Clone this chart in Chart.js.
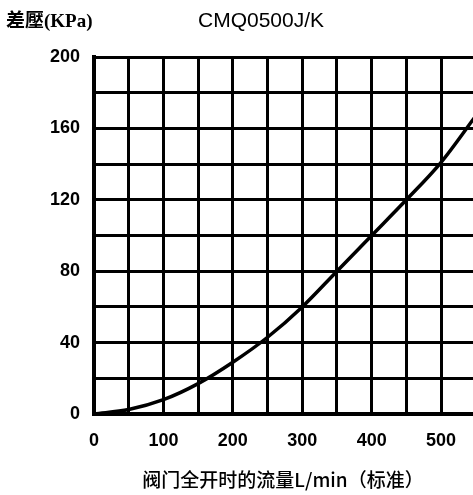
<!DOCTYPE html>
<html>
<head>
<meta charset="utf-8">
<style>
  body { margin: 0; background: #fff; }
  canvas { display: block; }
</style>
<script src="https://cdn.jsdelivr.net/npm/chart.js@4.4.0/dist/chart.umd.min.js"></script>
</head>
<body>
<canvas id="chart" width="473" height="495"></canvas>
<script>
// Flow (L/min) vs pressure drop (kPa)
const flowValues = [0, 50, 100, 150, 200, 250, 300, 350, 400, 450, 500, 550];
const pressureValues = [0, 2.5, 8, 17, 29, 43, 60, 80, 100, 120, 141, 167];

// Gridline positions; labels only on every other one
const xTicks = [0, 50, 100, 150, 200, 250, 300, 350, 400, 450, 500];
const xLabels = [0, 100, 200, 300, 400, 500];
const yLabels = [0, 40, 80, 120, 160, 200];

const chartTitle = 'CMQ0500J/K';
const yAxisTitle = '差壓(KPa)';
const xAxisTitle = '阀门全开时的流量L/min（标准）';

const tickFont = { family: '"Liberation Sans Narrow", "Liberation Sans", Arial, sans-serif', size: 18, weight: 'bold' };

// Draw the titles as plain canvas text
const titlePlugin = {
    id: 'titles',
    afterDraw(chart) {
        const ctx = chart.ctx;
        ctx.save();
        ctx.fillStyle = '#000';
        ctx.textBaseline = 'middle';

        ctx.textAlign = 'center';
        ctx.font = '500 21px "Liberation Sans", Arial, sans-serif';
        ctx.fillText(chartTitle, 261, 21);

        ctx.textAlign = 'left';
        ctx.font = 'bold 19px "Liberation Serif", "Noto Sans CJK SC", serif';
        ctx.fillText(yAxisTitle, 6, 22);

        ctx.textAlign = 'center';
        ctx.font = '500 19px "Noto Sans CJK SC", sans-serif';
        ctx.fillText(xAxisTitle, 283, 480);
        ctx.restore();
    }
};

const points = flowValues.map(function(x, i) {
    return { x: x, y: pressureValues[i] };
});

new Chart(document.getElementById('chart').getContext('2d'), {
    type: 'scatter',
    data: {
        datasets: [{
            data: points,
            showLine: true,
            borderColor: '#000',
            borderWidth: 3.5,
            pointRadius: 0,
            cubicInterpolationMode: 'monotone'
        }]
    },
    options: {
        responsive: false,
        animation: false,
        layout: { padding: { top: 57, right: 0, left: 0, bottom: 0 } },
        plugins: {
            legend: { display: false },
            tooltip: { enabled: false }
        },
        scales: {
            x: {
                type: 'linear',
                min: 0,
                max: 546,
                afterBuildTicks: function(axis) {
                    axis.ticks = xTicks.map(function(v) { return { value: v }; });
                },
                afterFit: function(axis) { axis.height = 81; },
                ticks: {
                    autoSkip: false,
                    maxRotation: 0,
                    padding: 16,
                    color: '#000',
                    font: tickFont,
                    callback: function(v) { return xLabels.includes(v) ? v : ''; }
                },
                grid: { color: '#000', lineWidth: 3, drawTicks: false },
                border: { color: '#000', width: 4 }
            },
            y: {
                min: 0,
                max: 200,
                afterFit: function(axis) { axis.width = 94; },
                ticks: {
                    stepSize: 20,
                    autoSkip: false,
                    padding: 14,
                    color: '#000',
                    font: tickFont,
                    callback: function(v) { return yLabels.includes(v) ? v : ''; }
                },
                grid: { color: '#000', lineWidth: 3, drawTicks: false },
                border: { color: '#000', width: 4 }
            }
        }
    },
    plugins: [titlePlugin]
});
</script>
</body>
</html>
